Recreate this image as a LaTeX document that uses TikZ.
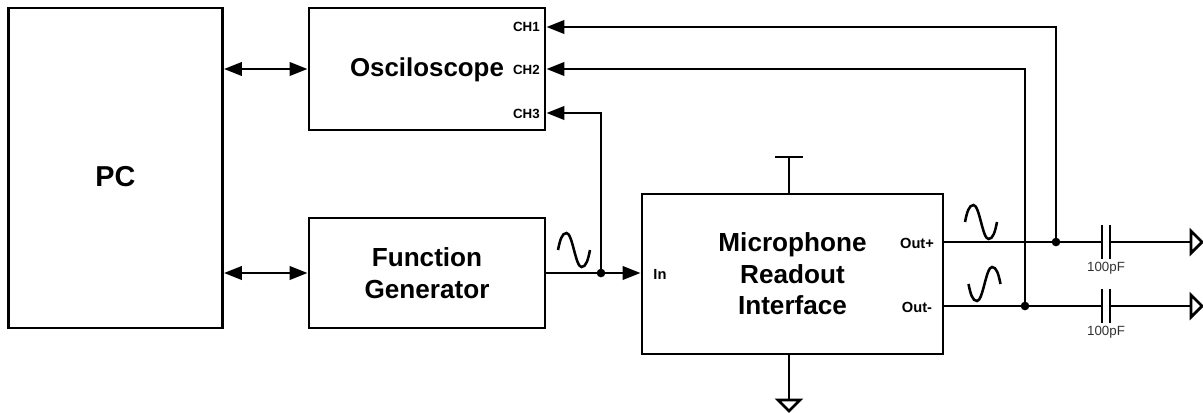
\documentclass[tikz,border=0pt]{standalone}
\usepackage{fontspec}
\setmainfont{Liberation Sans}
\usepackage{xcolor}
\definecolor{wiregray}{HTML}{000000}
\definecolor{capgray}{HTML}{333333}
\usetikzlibrary{positioning,arrows.meta,calc}
\tikzset{
  wire/.style={line width=2.1pt, wiregray},
  bus/.style={wire, {Triangle[length=13.5pt,width=10pt]}-{Triangle[length=13.5pt,width=10pt]}},
  feed/.style={wire, -{Triangle[length=13.5pt,width=10pt]}},
  blockbox/.style={draw=wiregray, line width=2.1pt, rectangle, align=center, font=\bfseries, inner sep=0pt},
  port/.style={font=\fontsize{10}{12}\selectfont\bfseries, inner sep=0pt},
  dot/.style={circle, fill=wiregray, inner sep=0pt, minimum size=6.5pt},
  sinewave/.pic={
    \draw[line width=1.9pt, wiregray] (-16,0) .. controls (-14,-10) and (-12,-17) .. (-7.5,-17)
      .. controls (-1.5,-17) and (1.5,17) .. (7.5,17) .. controls (12,17) and (14,10) .. (16,0);
  }
}
\begin{document}
\begin{tikzpicture}[x=0.75pt,y=-0.75pt]
    \useasboundingbox (0,0) rectangle (1203,412);
    % blocks
    \node[blockbox, minimum width=160.5pt, minimum height=240pt, text height=27pt, text depth=0pt, font=\fontsize{21.6}{24}\selectfont\bfseries] (pc) at (115.5,168) {PC};
    \node[blockbox, minimum width=177pt, minimum height=91.5pt, text height=10.5pt, text depth=0pt, font=\fontsize{19.4}{24}\selectfont\bfseries] (osc) at (427,69) {Osciloscope};
    \node[blockbox, minimum width=177pt, minimum height=82.5pt, font=\fontsize{19.6}{23.8}\selectfont\bfseries] (gen) at (427,273) {Function\\Generator};
    \node[blockbox, minimum width=225.75pt, minimum height=120pt, font=\fontsize{19.6}{23.6}\selectfont\bfseries] (mic) at (792.5,274) {Microphone\\Readout\\Interface};
    % labels
    \node[port, anchor=east] (ch1) at (540,27) {CH1};
    \node[port, anchor=east] (ch2) at (540,70) {CH2};
    \node[port, anchor=east] (ch3) at (540,114) {CH3};
    \node[port, font=\fontsize{11}{13}\selectfont\bfseries] (lblin) at (660,274) {In};
    \node[port, font=\fontsize{11}{13}\selectfont\bfseries] (lblp) at (917,243) {Out+};
    \node[port, font=\fontsize{11}{13}\selectfont\bfseries] (lblm) at (917,307) {Out-};
    % pc links
    \draw[bus] (pc.east |- osc.west) -- (osc.west);
    \draw[bus] (pc.east |- gen.east) -- (gen.west);
    % input
    \coordinate (micin) at (mic.west |- gen.east);
    \draw[feed] (gen.east) -- (micin);
    \node[dot] (jin) at (601,273) {};
    \draw[feed] (jin.center) -- (601,113) -- (osc.east |- 0,113);
    % outputs
    \foreach \nm/\y in {p/242,m/306} {
      \coordinate (cap\nm l) at (1102,\y);
      \coordinate (cap\nm r) at (1110,\y);
      \coordinate (term\nm) at (1191,\y);
      \draw[wire] (mic.east |- term\nm) -- (cap\nm l);
      \draw[wire] (cap\nm r) -- (term\nm);
      \draw[wire] (1102,\y-17) -- (1102,\y+17);
      \draw[wire] (1110,\y-17) -- (1110,\y+17);
      \draw[wire, fill=white, line join=miter] (1191,\y-11) -- (1202,\y) -- (1191,\y+11) -- cycle;
      \node[font=\fontsize{10}{12}\selectfont, text=capgray, inner sep=0pt] at (1106,\y+26) {100pF};
    }
    \node[dot] (jp) at (1056,242) {};
    \node[dot] (jm) at (1025,306) {};
    \draw[feed] (jp.center) -- (1056,27) -- (osc.east |- 0,27);
    \draw[feed] (jm.center) -- (1025,69) -- (osc.east);
    % supply and ground
    \draw[wire] (mic.north -| 789,0) -- (789,157);
    \draw[wire] (775,157) -- (803,157);
    \draw[wire] (mic.south -| 789,0) -- (789,400);
    \draw[wire, line join=miter] (778,400) -- (800,400) -- (789,411) -- cycle;
    % waves
    \pic at (574,250) {sinewave};
    \pic at (981,222) {sinewave};
    \pic[yscale=-1] at (984.5,284) {sinewave};
\end{tikzpicture}
\end{document}
